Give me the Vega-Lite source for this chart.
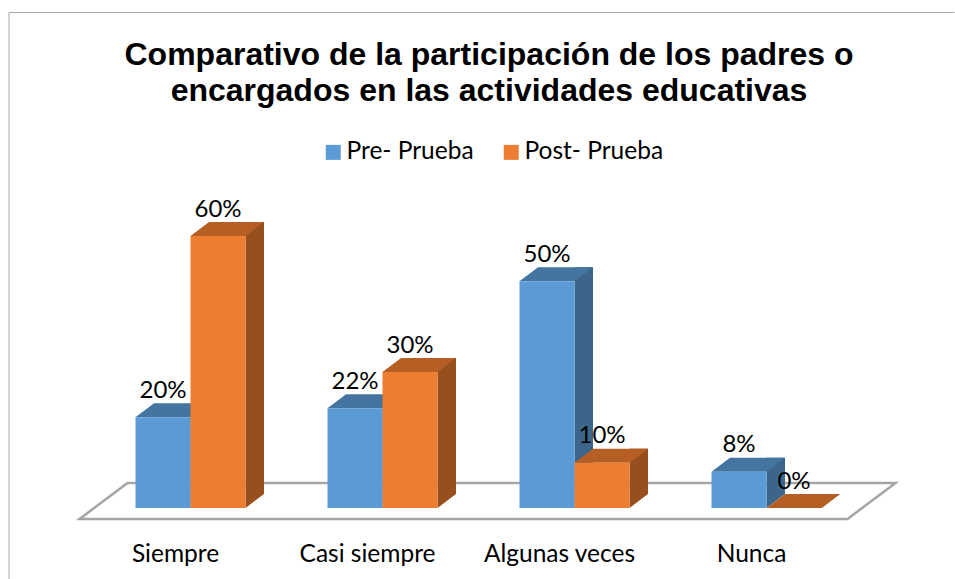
{
"$schema":"https://vega.github.io/schema/vega-lite/v6.json",
"autosize":{"type":"none"},
"padding":{"left":94.5,"right":92.5,"top":236,"bottom":71},
"width":768,"height":272,
"background":"white",
"config":{"view":{"stroke":null},"font":"Lato"},
"title":{"text":["Comparativo de la participación de los padres o","encargados en las actividades educativas"],"font":"Liberation Sans","fontSize":32,"fontWeight":"bold","color":"#000000","anchor":"middle","frame":"group","dx":10.5,"offset":-97,"lineHeight":36},
"datasets":{"d":[
{"categoria":"Siempre","serie":"Pre- Prueba","valor":20},
{"categoria":"Siempre","serie":"Post- Prueba","valor":60},
{"categoria":"Casi siempre","serie":"Pre- Prueba","valor":22},
{"categoria":"Casi siempre","serie":"Post- Prueba","valor":30},
{"categoria":"Algunas veces","serie":"Pre- Prueba","valor":50},
{"categoria":"Algunas veces","serie":"Post- Prueba","valor":10},
{"categoria":"Nunca","serie":"Pre- Prueba","valor":8},
{"categoria":"Nunca","serie":"Post- Prueba","valor":0}
]},
"data":{"name":"d"},
"encoding":{
"x":{"field":"categoria","type":"nominal","sort":["Siempre","Casi siempre","Algunas veces","Nunca"],"title":null,
"scale":{"type":"band","domain":["Siempre","Casi siempre","Algunas veces","Nunca"],"paddingInner":0.427,"paddingOuter":0.2135},
"axis":{"domain":false,"ticks":false,"grid":false,"labelAngle":0,"labelFontSize":24.5,"labelColor":"#000000","labelFont":"Lato","labelOffset":-15,"labelPadding":34}},
"y":{"field":"valor","type":"quantitative","title":null,"scale":{"domain":[0,60],"nice":false},"axis":null}
},
"layer":[
{"transform":[{"filter":"datum.categoria==='Casi siempre' && datum.serie==='Pre- Prueba'"}],
 "mark":{"type":"point","shape":"M572,-495.5 L-373.5,-495.5 L-373.5,71","size":4,"filled":false,"stroke":"#a6a6a6","strokeWidth":1,"opacity":1},
 "encoding":{"y":{"datum":0}}},
{"transform":[{"filter":"datum.categoria==='Casi siempre' && datum.serie==='Pre- Prueba'"}],
 "mark":{"type":"point","shape":"M-303,11 L-255,-25 L513,-25 L465,11 Z","size":4,"filled":false,"stroke":"#a5a5a5","strokeWidth":2.5,"opacity":1},
 "encoding":{"y":{"datum":0}}},
{"transform":[{"filter":"datum.serie==='Pre- Prueba'"}],
 "mark":{"type":"bar","width":18.5,"xOffset":9.25,"yOffset":-14,"y2Offset":-14,"color":"#3c6689"},
 "encoding":{"y2":{"datum":0}}},
{"transform":[{"filter":"datum.serie==='Pre- Prueba'"}],
 "mark":{"type":"point","shape":"M0,0 L18.5,-14 L0,-14 Z","size":4,"filled":true,"color":"#3c6689","opacity":1,"strokeWidth":0},
 "encoding":{"y":{"datum":0}}},
{"transform":[{"filter":"datum.serie==='Pre- Prueba'"}],
 "mark":{"type":"point","shape":"M-27.5,0 L-9,-14 L46,-14 L27.5,0 Z","size":4,"filled":true,"color":"#4475a1","opacity":1,"strokeWidth":0,"xOffset":-27.5}},
{"transform":[{"filter":"datum.serie==='Pre- Prueba'"}],
 "mark":{"type":"bar","width":55,"xOffset":-27.5},
 "encoding":{"y2":{"datum":0},"color":{"field":"serie","type":"nominal","sort":["Pre- Prueba","Post- Prueba"],"title":null,"scale":{"domain":["Pre- Prueba","Post- Prueba"],"range":["#5b9bd5","#ed7d31"]},
 "legend":{"orient":"none","direction":"horizontal","legendX":226.5,"legendY":-96,"symbolType":"square","symbolSize":225,"labelFontSize":24.5,"labelFont":"Lato","labelColor":"#000000","columnPadding":25,"symbolStrokeWidth":0,"labelOffset":1}}}},
{"transform":[{"filter":"datum.serie==='Post- Prueba'"}],
 "mark":{"type":"bar","width":18.5,"xOffset":64.25,"yOffset":-14,"y2Offset":-14,"color":"#964f1d"},
 "encoding":{"y2":{"datum":0}}},
{"transform":[{"filter":"datum.serie==='Post- Prueba'"}],
 "mark":{"type":"point","shape":"M0,0 L18.5,-14 L0,-14 Z","size":4,"filled":true,"color":"#964f1d","opacity":1,"strokeWidth":0,"xOffset":55},
 "encoding":{"y":{"datum":0}}},
{"transform":[{"filter":"datum.serie==='Post- Prueba'"}],
 "mark":{"type":"point","shape":"M-27.5,0 L-9,-14 L46,-14 L27.5,0 Z","size":4,"filled":true,"color":"#b55f25","opacity":1,"strokeWidth":0,"xOffset":27.5}},
{"transform":[{"filter":"datum.serie==='Post- Prueba'"}],
 "mark":{"type":"bar","width":55,"xOffset":27.5},
 "encoding":{"y2":{"datum":0},"color":{"field":"serie","type":"nominal","sort":["Pre- Prueba","Post- Prueba"],"title":null,"scale":{"domain":["Pre- Prueba","Post- Prueba"],"range":["#5b9bd5","#ed7d31"]}}}},
{"transform":[{"calculate":"datum.valor+'%'","as":"etiqueta"}],
 "mark":{"type":"text","fontSize":24,"font":"Lato","color":"#000000","baseline":"middle","dy":-26.5},
 "encoding":{"text":{"field":"etiqueta"},"xOffset":{"field":"serie","type":"nominal","sort":["Pre- Prueba","Post- Prueba"],"scale":{"domain":["Pre- Prueba","Post- Prueba"]}}}}
]
}
